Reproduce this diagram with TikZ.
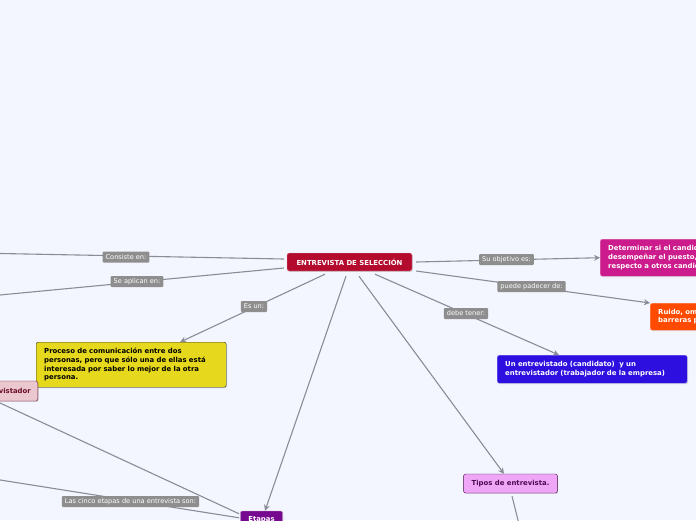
\documentclass[tikz,border=0pt]{standalone}
\usepackage{fontspec}
\setmainfont{DejaVu Sans}
\usetikzlibrary{arrows.meta,shadows}
\definecolor{MapBack}{HTML}{F3F6FE}
\definecolor{MapLine}{HTML}{8A8C96}
\definecolor{MapLabel}{HTML}{8E8E8E}
\definecolor{MapRed}{HTML}{B30A2E}
\definecolor{MapMagenta}{HTML}{CC1B8C}
\definecolor{MapOrange}{HTML}{FF4A00}
\definecolor{MapYellow}{HTML}{E6D81C}
\definecolor{MapBlue}{HTML}{2D0FDF}
\definecolor{MapPink}{HTML}{EBC7CF}
\definecolor{MapPinkText}{HTML}{6B0F2A}
\definecolor{MapLilac}{HTML}{F0A6F7}
\definecolor{MapLilacText}{HTML}{4A0A50}
\definecolor{MapPurple}{HTML}{76088F}

\begin{document}
\begin{tikzpicture}[x=1pt,y=-1pt,
  topic/.style={rounded corners=2pt,font=\fontsize{6.9}{8.7}\selectfont\bfseries,
    inner xsep=8pt,inner ysep=3pt,
    drop shadow={shadow xshift=0.8pt,shadow yshift=-0.9pt,opacity=0.3}},
  lbl/.style={fill=MapLabel,text=white,rounded corners=1pt,
    font=\fontsize{6.6}{7}\selectfont,inner xsep=3pt,inner ysep=1pt,minimum height=11pt},
  conn/.style={draw=MapLine,line width=1.1pt},
  arr/.style={conn,-{Stealth[length=6pt,width=6pt]}}]
\useasboundingbox (0,0) rectangle (696,520);
\fill[MapBack] (0,0) rectangle (696,520);
\clip (0,0) rectangle (696,520);

% topics
\node[topic,fill=MapRed,draw=white!70!MapRed,text=white,minimum width=125pt,minimum height=18pt]
  (ent) at (349.5,262) {ENTREVISTA DE SELECCIÓN};
\node[topic,fill=MapMagenta,draw=white!60!MapMagenta,text=white,anchor=north west,
  text width=190pt,align=left,minimum height=37pt] (obj) at (600,239)
  {Determinar si el candidato es apto para\\desempeñar el puesto, y su idoneidad\\respecto a otros candidatos.};
\node[topic,fill=MapOrange,draw=white!60!MapOrange,text=white,anchor=north west,
  text width=130pt,align=left,minimum height=27pt] (rui) at (650,303)
  {Ruido, omisiones y\\barreras personales.};
\node[topic,fill=MapYellow,draw=black!80,text=black,anchor=north west,
  text width=174pt,align=left,minimum height=45pt] (pro) at (36,342)
  {Proceso de comunicación entre dos\\personas, pero que sólo una de ellas está\\interesada por saber lo mejor de la otra\\persona.};
\node[topic,fill=MapBlue,draw=white!60!MapBlue,text=white,anchor=north west,
  text width=174pt,align=left,minimum height=28pt] (par) at (497,355)
  {Un entrevistado (candidato)\ \ y un\\entrevistador (trabajador de la empresa)};
\node[topic,fill=MapPink,draw=MapPinkText,text=MapPinkText,anchor=east,
  minimum height=20pt,inner xsep=7pt] (evr) at (38,391) {Entrevistador};
\node[topic,fill=MapLilac,draw=MapLilacText,text=MapLilacText,
  minimum width=93pt,minimum height=19pt] (tip) at (510.5,483.5) {Tipos de entrevista.};
\node[topic,fill=MapPurple,draw=white!60!MapPurple,text=white,
  minimum width=41pt,minimum height=18pt] (eta) at (261.5,520) {Etapas};

% free ends off the page
\coordinate (c1) at (-20,253.1);
\coordinate (c2) at (-20,296.9);
\coordinate (c3) at (-20,393.7);
\coordinate (c4) at (-20,476.8);
\coordinate (c5) at (520.5,530);

% connectors
\draw[conn] ([xshift=-3pt,yshift=3pt]ent.west) -- (c1);
\draw[conn] ([xshift=-3pt,yshift=-6pt]ent.west) -- (c2);
\draw[arr] ([xshift=-24.5pt,yshift=-3pt]ent.south) -- ([xshift=49pt]pro.north);
\draw[arr] ([xshift=-3.5pt,yshift=-5pt]ent.south) -- ([xshift=3.5pt]eta.north);
\draw[arr] ([xshift=9.5pt,yshift=-5pt]ent.south) -- ([xshift=-6.5pt]tip.north);
\draw[arr] ([xshift=25.5pt,yshift=-3pt]ent.south) -- ([xshift=62pt]par.north west);
\draw[arr] ([xshift=4pt]ent.east) -- (obj.west);
\draw[arr] ([xshift=4pt,yshift=-9pt]ent.east) -- (rui.north west);
\draw[conn] ([xshift=1.5pt,yshift=-3pt]tip.south) -- (c5);
\draw[conn] ([xshift=-1pt,yshift=-3pt]eta.north west) -- (c3);
\draw[conn] ([xshift=-1pt,yshift=-7pt]eta.north west) -- (c4);

% labels
\node[lbl] (l1) at (126,257) {Consiste en:};
\node[lbl] (l2) at (137,281.5) {Se aplican en:};
\node[lbl] (l3) at (254,306.5) {Es un:};
\node[lbl] (l4) at (506.5,259.5) {Su objetivo es:};
\node[lbl] (l5) at (531.5,286.5) {puede padecer de:};
\node[lbl] (l6) at (466,313.5) {debe tener:};
\node[lbl] (l7) at (130.5,501.5) {Las cinco etapas de una entrevista son:};
\end{tikzpicture}
\end{document}
